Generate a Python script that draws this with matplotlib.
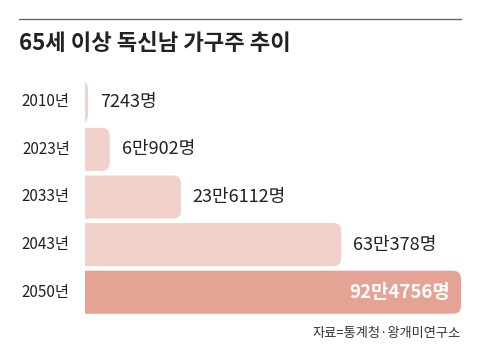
import matplotlib.pyplot as plt
from matplotlib.patches import FancyBboxPatch
from matplotlib.lines import Line2D

plt.rcParams['font.family'] = ['Noto Sans CJK KR', 'DejaVu Sans']

# 데이터
years = ['2010년', '2023년', '2033년', '2043년', '2050년']
values = [7243, 60902, 236112, 630378, 924756]
labels = ['7243명', '6만902명', '23만6112명', '63만378명', '92만4756명']

W, H = 480, 359
fig = plt.figure(figsize=(W / 100, H / 100), dpi=100)

# 축 위치 (픽셀 기준)
left_px, right_px = 85, 461
top_px, bottom_px = 78, 316
ax = fig.add_axes([left_px / W, (H - bottom_px) / H,
                   (right_px - left_px) / W, (bottom_px - top_px) / H])
xmax = max(values)
ax.set_xlim(0, xmax)
ax.set_ylim(len(values) - 0.5, -0.5)
ax.axis('off')

# 픽셀당 데이터 단위
x_per_px = xmax / (right_px - left_px)
y_per_px = len(values) / (bottom_px - top_px)
r_px = 8
r = r_px * x_per_px
bar_h = 0.905

light = '#f2d1cb'
dark = '#e5a396'

for i, (v, lab) in enumerate(zip(values, labels)):
    last = i == len(values) - 1
    box = FancyBboxPatch((-2 * r, i - bar_h / 2), v + 2 * r, bar_h,
                         boxstyle=f'round,pad=0,rounding_size={r}',
                         mutation_aspect=y_per_px / x_per_px,
                         facecolor=dark if last else light,
                         edgecolor='none')
    ax.add_patch(box)
    if last:
        ax.annotate(lab, (v, i), xytext=(-8, 0), textcoords='offset points',
                    ha='right', va='center', fontsize=13.5, color='white',
                    fontweight='bold')
    else:
        ax.annotate(lab, (v, i), xytext=(8.5, 0), textcoords='offset points',
                    ha='left', va='center', fontsize=13, color='#222222')
    ax.annotate(years[i], (0, i), xytext=(-11, 0), textcoords='offset points',
                ha='right', va='center', fontsize=11, color='#222222',
                annotation_clip=False)

# 상단 선과 제목
fig.add_artist(Line2D([19 / W, 461 / W], [1 - 19 / H, 1 - 19 / H],
                      color='#666666', linewidth=1))
fig.text(19 / W, 1 - 44 / H, '65세 이상 독신남 가구주 추이', ha='left', va='center',
         fontsize=16, fontweight='bold', color='#222222')

# 출처
fig.text(461 / W, 1 - 334 / H, '자료=통계청·왕개미연구소', ha='right', va='center',
         fontsize=9.5, color='#333333')

fig.savefig('out.png', dpi=100)
